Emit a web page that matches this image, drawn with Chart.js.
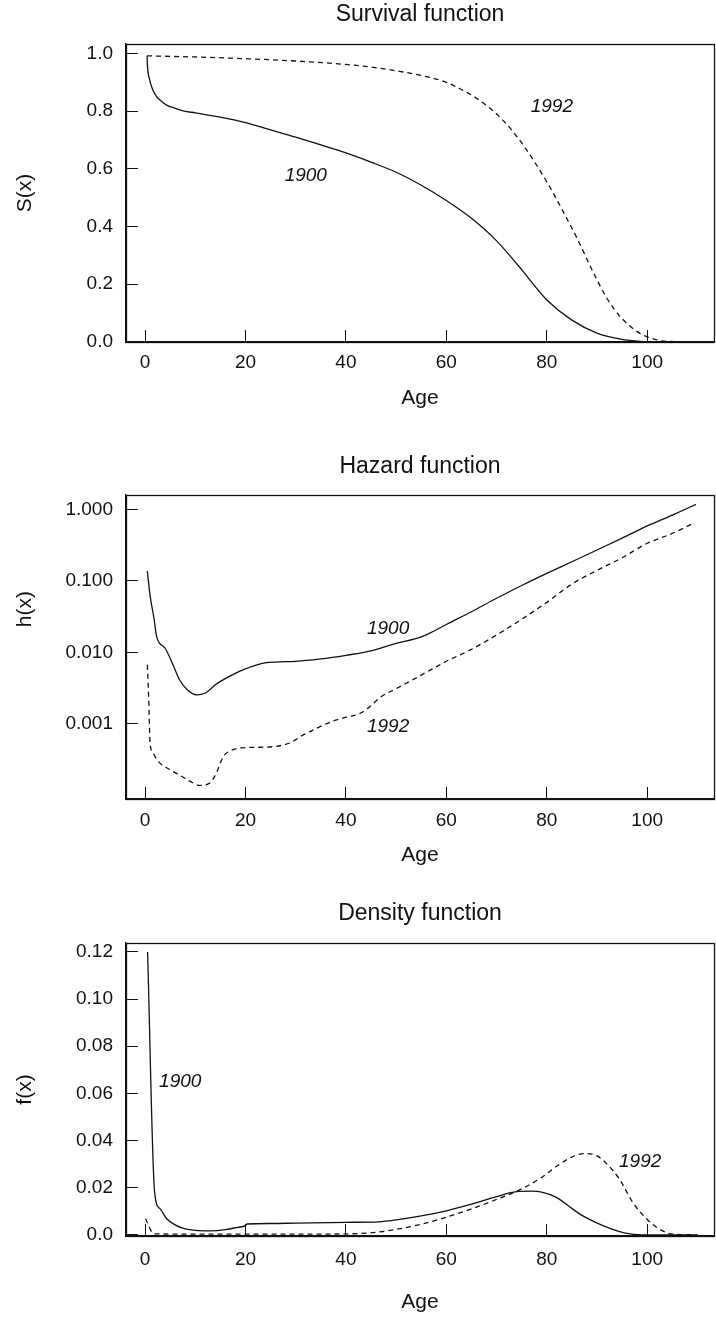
<!DOCTYPE html>
<html>
<head>
<meta charset="utf-8">
<script src="https://cdn.jsdelivr.net/npm/chart.js@4.4.1/dist/chart.umd.min.js"></script>
<style>
  html, body { margin: 0; padding: 0; background: #fff; }
  .panel { position: absolute; left: 0; }
</style>
</head>
<body>
<canvas id="survival" class="panel" width="716" height="440" style="top:0px"></canvas>
<canvas id="hazard" class="panel" width="716" height="440" style="top:440px"></canvas>
<canvas id="density" class="panel" width="716" height="443" style="top:880px"></canvas>
<script>
// x axis (age) ticks shared by all three panels
const ageTicks = [0, 20, 40, 60, 80, 100];

// survival function S(x)
const survAge1900 = [0.4, 0.45, 0.9, 1.5, 2.3, 3, 4.3, 6, 7.6, 10, 15, 20, 25, 30, 35, 40, 45, 50, 55, 60, 65, 70, 75, 78, 80, 85, 90, 95, 98, 100, 109.5];
const surv1900 = [0.992, 0.965, 0.91, 0.875, 0.85, 0.838, 0.821, 0.81, 0.801, 0.794, 0.779, 0.76, 0.735, 0.71, 0.683, 0.655, 0.623, 0.588, 0.543, 0.49, 0.428, 0.35, 0.25, 0.185, 0.145, 0.075, 0.03, 0.008, 0.002, 0.0, 0.0];
const survAge1992 = [0.4, 5, 10, 20, 30, 40, 45, 50, 55, 60, 63, 66, 70, 73, 76, 80, 83, 86, 89, 92, 95, 98, 100, 102, 104, 109.5];
const surv1992 = [0.992, 0.99, 0.988, 0.982, 0.974, 0.962, 0.953, 0.94, 0.924, 0.9, 0.875, 0.845, 0.79, 0.735, 0.665, 0.555, 0.46, 0.36, 0.25, 0.15, 0.08, 0.035, 0.017, 0.006, 0.001, 0.0];
const survTicks = [0, 0.2, 0.4, 0.6, 0.8, 1.0];
const survTickLabels = ['0.0', '0.2', '0.4', '0.6', '0.8', '1.0'];

// hazard function h(x), log scale
const hazAge1900 = [0.45, 1, 1.8, 2.3, 4, 5.3, 6.9, 8.4, 10.3, 12, 14.2, 16.5, 19.5, 24.2, 30, 35, 40, 45, 50, 55, 57, 60, 65, 70, 75, 80, 85, 90, 95, 100, 105, 109.7];
const haz1900 = [0.137, 0.062, 0.029, 0.0166, 0.0114, 0.0074, 0.0041, 0.003, 0.00255, 0.0027, 0.0036, 0.0045, 0.0057, 0.0072, 0.0075, 0.0081, 0.0091, 0.0105, 0.0133, 0.0165, 0.019, 0.0245, 0.037, 0.057, 0.086, 0.127, 0.185, 0.27, 0.395, 0.585, 0.83, 1.17];
const hazAge1992 = [0.45, 0.7, 1, 1.5, 2.6, 4.9, 7, 8.9, 10.9, 12.9, 14.2, 15.6, 17, 18.9, 22, 25.5, 28.8, 31.5, 34.2, 37.5, 40, 42.8, 45, 47, 50, 55, 60, 65, 70, 75, 80, 85, 90, 95, 100, 105, 108.8];
const haz1992 = [0.0067, 0.0025, 0.00054, 0.0004, 0.0003, 0.00023, 0.00019, 0.000158, 0.000138, 0.000149, 0.000206, 0.00035, 0.00042, 0.00046, 0.00047, 0.00048, 0.00054, 0.0007, 0.00087, 0.0011, 0.00124, 0.0014, 0.0018, 0.0024, 0.0031, 0.0048, 0.0075, 0.011, 0.0175, 0.029, 0.05, 0.09, 0.14, 0.21, 0.335, 0.46, 0.62];
const hazTicks = [0.001, 0.01, 0.1, 1];
const hazTickLabels = ['0.001', '0.010', '0.100', '1.000'];

// density function f(x)
const densAge1900 = [0.5, 1.9, 3, 4.3, 6, 7.5, 10, 13, 16, 18.5, 20, 20.3, 25, 30, 40, 46.5, 50, 55, 60, 65, 70, 74, 77, 79, 82, 84.6, 86.6, 89, 91.3, 94, 96.6, 100, 110];
const dens1900 = [0.12, 0.018, 0.011, 0.0068, 0.0042, 0.0028, 0.0019, 0.0017, 0.0022, 0.0032, 0.0039, 0.0046, 0.0048, 0.005, 0.0053, 0.0055, 0.0063, 0.008, 0.0102, 0.013, 0.0162, 0.0183, 0.0185, 0.0181, 0.0158, 0.0118, 0.0088, 0.006, 0.0038, 0.0017, 0.0004, 0.0, 0.0];
const densAge1992 = [0.1, 1.4, 2, 10, 20, 30, 40, 44, 47, 50, 55, 60, 65, 70, 75, 78.6, 82.6, 85, 87.6, 90, 92, 94.5, 97.2, 100, 102, 104, 106, 110];
const dens1992 = [0.0068, 0.001, 0.0004, 0.0003, 0.0003, 0.0003, 0.0004, 0.0007, 0.0013, 0.0023, 0.0045, 0.0075, 0.011, 0.015, 0.0195, 0.0238, 0.03, 0.033, 0.0345, 0.0335, 0.03, 0.0235, 0.0135, 0.0065, 0.003, 0.0008, 0.0002, 0.0];
const densTicks = [0, 0.02, 0.04, 0.06, 0.08, 0.10, 0.12];
const densTickLabels = ['0.0', '0.02', '0.04', '0.06', '0.08', '0.10', '0.12'];

// where the year labels sit, in data units
const survNotes = [{ text: '1900', age: 32, val: 0.575 }, { text: '1992', age: 81, val: 0.817 }];
const hazNotes = [{ text: '1900', age: 48.4, val: 0.0217 }, { text: '1992', age: 48.4, val: 0.00092 }];
const densNotes = [{ text: '1900', age: 7, val: 0.065 }, { text: '1992', age: 98.6, val: 0.031 }];

const FONT = 'Liberation Sans, Arial, Helvetica, sans-serif';
const INK = '#111';

// full box round the plot area
const framePlugin = {
  id: 'frame',
  afterDraw(chart) {
    const a = chart.chartArea, c = chart.ctx;
    c.save();
    c.strokeStyle = INK;
    c.lineWidth = 1.3;
    c.strokeRect(Math.round(a.left) + 0.5, Math.round(a.top) + 0.5, Math.round(a.right - a.left), Math.round(a.bottom - a.top));
    c.restore();
  }
};

// italic year labels next to the curves
const notesPlugin = {
  id: 'notes',
  afterDatasetsDraw(chart, args, opts) {
    const c = chart.ctx;
    c.save();
    c.font = 'italic 19px ' + FONT;
    c.fillStyle = INK;
    c.textAlign = 'center';
    c.textBaseline = 'middle';
    (opts.items || []).forEach(n => {
      c.fillText(n.text, chart.scales.x.getPixelForValue(n.age), chart.scales.y.getPixelForValue(n.val));
    });
    c.restore();
  }
};

function series(ages, vals) {
  return ages.map((a, i) => ({ x: a, y: vals[i] }));
}

function makePanel(id, p) {
  return new Chart(document.getElementById(id), {
    type: 'line',
    data: {
      datasets: [
        { label: '1900', data: series(p.age1900, p.v1900), borderColor: INK, borderWidth: 1.3, pointRadius: 0, fill: false, cubicInterpolationMode: 'monotone' },
        { label: '1992', data: series(p.age1992, p.v1992), borderColor: INK, borderWidth: 1.3, borderDash: [5, 4], pointRadius: 0, fill: false, cubicInterpolationMode: 'monotone' }
      ]
    },
    options: {
      responsive: false,
      animation: false,
      layout: { padding: { right: 2 } },
      plugins: {
        legend: { display: false },
        tooltip: { enabled: false },
        title: {
          display: true, text: p.title, fullSize: false, color: INK,
          font: { family: FONT, size: 23, weight: 'normal' },
          padding: { top: p.titleTop, bottom: p.titleBottom }
        },
        notes: { items: p.notes }
      },
      scales: {
        x: {
          type: 'linear', min: -3.8, max: 113.3,
          afterBuildTicks: s => { s.ticks = ageTicks.map(v => ({ value: v })); },
          afterFit: s => { s.height = p.xHeight; },
          grid: { drawOnChartArea: false, drawTicks: true, tickLength: -12, color: INK, lineWidth: 1 },
          border: { display: true, color: INK, width: 1.3 },
          ticks: { padding: p.xPad, color: INK, font: { family: FONT, size: 19 }, maxRotation: 0, autoSkip: false, callback: v => String(v) },
          title: { display: true, text: 'Age', color: INK, font: { family: FONT, size: 21 }, padding: { top: 0, bottom: p.ageBottom } }
        },
        y: {
          type: p.yType, min: p.yMin, max: p.yMax,
          afterBuildTicks: s => { s.ticks = p.yTicks.map(v => ({ value: v })); },
          afterFit: s => { s.width = 126; },
          grid: { drawOnChartArea: false, drawTicks: true, tickLength: -12, color: INK, lineWidth: 1 },
          border: { display: true, color: INK, width: 1.3 },
          ticks: { padding: 25, color: INK, font: { family: FONT, size: 19 }, autoSkip: false, callback: (v, i) => p.yLabels[i] },
          title: { display: true, text: p.yTitle, color: INK, font: { family: FONT, size: 21 }, padding: { top: 13, bottom: 0 } }
        }
      }
    },
    plugins: [framePlugin, notesPlugin]
  });
}

makePanel('survival', {
  title: 'Survival function', titleTop: 1, titleBottom: 15.4,
  age1900: survAge1900, v1900: surv1900, age1992: survAge1992, v1992: surv1992,
  yType: 'linear', yMin: -0.001, yMax: 1.033, yTicks: survTicks, yLabels: survTickLabels, yTitle: 'S(x)',
  xHeight: 98, xPad: 21, ageBottom: 29, notes: survNotes
});

makePanel('hazard', {
  title: 'Hazard function', titleTop: 13, titleBottom: 14.4,
  age1900: hazAge1900, v1900: haz1900, age1992: hazAge1992, v1992: haz1992,
  yType: 'logarithmic', yMin: 0.000089, yMax: 1.585, yTicks: hazTicks, yLabels: hazTickLabels,
  yTitle: '             h(x)',
  xHeight: 81, xPad: 22, ageBottom: 12, notes: hazNotes
});

makePanel('density', {
  title: 'Density function', titleTop: 19.5, titleBottom: 15.9,
  age1900: densAge1900, v1900: dens1900, age1992: densAge1992, v1992: dens1992,
  yType: 'linear', yMin: -0.0005, yMax: 0.1238, yTicks: densTicks, yLabels: densTickLabels, yTitle: 'f(x)',
  xHeight: 87, xPad: 24, ageBottom: 8, notes: densNotes
});
</script>
</body>
</html>
